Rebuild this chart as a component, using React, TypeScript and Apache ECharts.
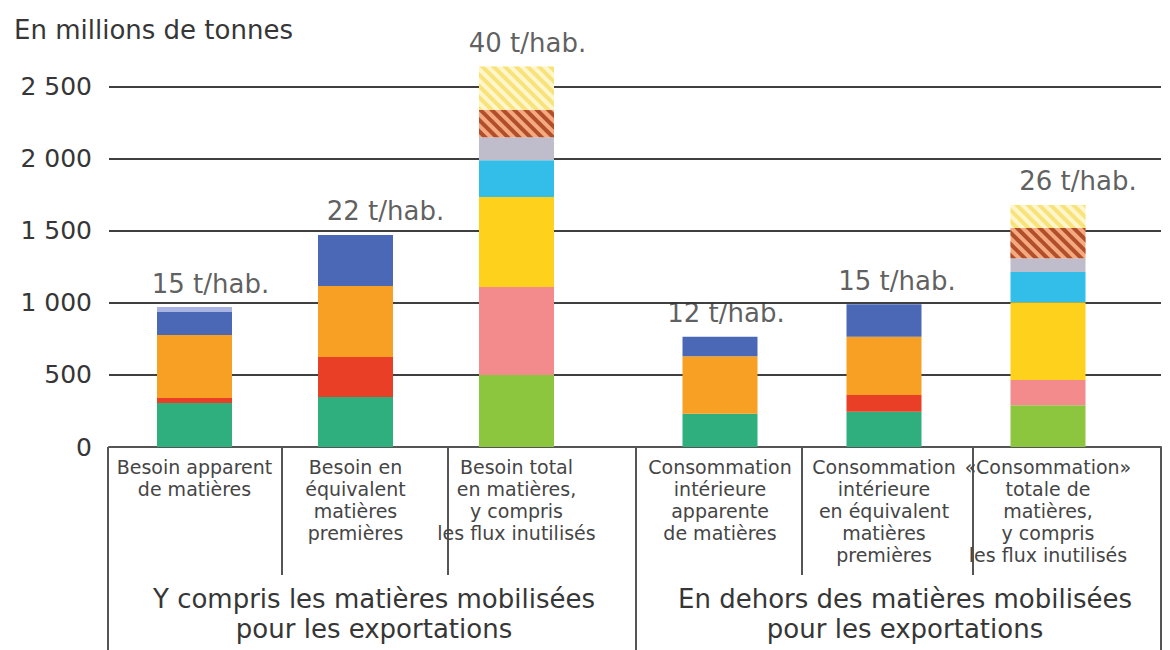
import { useEffect, useRef } from "react";
import * as echarts from "echarts";

// ---------- data ----------
const categories = [
  "Besoin apparent\nde matières",
  "Besoin en\néquivalent\nmatières\npremières",
  "Besoin total\nen matières,\ny compris\nles flux inutilisés",
  "Consommation\nintérieure\napparente\nde matières",
  "Consommation\nintérieure\nen équivalent\nmatières\npremières",
  "«Consommation»\ntotale de\nmatières,\ny compris\nles flux inutilisés",
];
const groupLabels = [
  ["Y compris les matières mobilisées", "pour les exportations"],
  ["En dehors des matières mobilisées", "pour les exportations"],
];
const perHab = ["15 t/hab.", "22 t/hab.", "40 t/hab.", "12 t/hab.", "15 t/hab.", "26 t/hab."];
const yTicks = [0, 500, 1000, 1500, 2000, 2500];
const unitTitle = "En millions de tonnes";

// stacked segments, bottom to top (millions de tonnes)
const biomasse = [305, 347, 0, 230, 245, 0];
const mineraisMetal = [35, 278, 0, 0, 115, 0];
const mineraux = [437, 492, 0, 400, 405, 0];
const fossiles = [160, 354, 0, 135, 225, 0];
const autres = [34, 0, 0, 0, 0, 0];
const biomasseTotale = [0, 0, 500, 0, 0, 290];
const mineraisTotaux = [0, 0, 610, 0, 0, 175];
const minerauxTotaux = [0, 0, 625, 0, 0, 540];
const fossilesTotaux = [0, 0, 255, 0, 0, 210];
const autresTotaux = [0, 0, 160, 0, 0, 95];
const fluxInutilisesExtraction = [0, 0, 190, 0, 0, 210];
const fluxInutilisesAutres = [0, 0, 300, 0, 0, 160];

// ---------- styles ----------
const seriesDefs = [
  { name: "Biomasse", values: biomasse, color: "#2fae7e" },
  { name: "Minerais métalliques", values: mineraisMetal, color: "#ea3f27" },
  { name: "Minéraux non métalliques", values: mineraux, color: "#f7a023" },
  { name: "Combustibles fossiles", values: fossiles, color: "#4a68b6" },
  { name: "Autres produits", values: autres, color: "#aab4e4" },
  { name: "Biomasse (total)", values: biomasseTotale, color: "#8cc63f" },
  { name: "Minerais métalliques (total)", values: mineraisTotaux, color: "#f38b8c" },
  { name: "Minéraux non métalliques (total)", values: minerauxTotaux, color: "#fdd11c" },
  { name: "Combustibles fossiles (total)", values: fossilesTotaux, color: "#33bde9" },
  { name: "Autres produits (total)", values: autresTotaux, color: "#bfbccb" },
  {
    name: "Flux inutilisés d'extraction",
    values: fluxInutilisesExtraction,
    color: "#f4a981",
    decal: "#b04f2a",
  },
  {
    name: "Autres flux inutilisés",
    values: fluxInutilisesAutres,
    color: "#fff6cc",
    decal: "#f8e27a",
  },
];
const labelDx = [16, 30, 11, 6, 13, 30];
const TEXT = "#363636";
const FONT = "DejaVu Sans";
const GRID_TOP = 86.7;
const GRID_H = 360.3;
const AXIS_Y = GRID_TOP + GRID_H;
const separators = [
  { x: 108, y2: 650 },
  { x: 282, y2: 575 },
  { x: 448, y2: 575 },
  { x: 636, y2: 650 },
  { x: 802, y2: 575 },
  { x: 973, y2: 575 },
  { x: 1161, y2: 650 },
];
const groupCenters = [374, 905];
const groupLineY = [599, 629];

const fmt = (v: number) => String(v).replace(/\B(?=(\d{3})+(?!\d))/g, " ");

export default function App() {
  const ref = useRef<HTMLDivElement>(null);
  useEffect(() => {
    if (!ref.current) return;
    const chart = echarts.init(ref.current, undefined, { renderer: "svg" });
    const totals = categories.map((_, i) => seriesDefs.reduce((s, d) => s + d.values[i], 0));

    const series: any[] = [];
    [0, 1].forEach((g) => {
      const from = g * 3;
      seriesDefs.forEach((d) => {
        series.push({
          type: "bar",
          name: d.name,
          xAxisIndex: g + 1,
          yAxisIndex: g + 1,
          stack: "s" + g,
          barWidth: 75,
          clip: false,
          silent: true,
          data: d.values.slice(from, from + 3),
          itemStyle: {
            color: d.color,
            decal: d.decal
              ? {
                  symbol: "rect",
                  symbolSize: 1,
                  dashArrayX: [1, 0],
                  dashArrayY: [4, 4],
                  rotation: Math.PI / 4,
                  color: d.decal,
                }
              : undefined,
          },
        });
      });
      series.push({
        type: "scatter",
        xAxisIndex: g + 1,
        yAxisIndex: g + 1,
        symbolSize: 1,
        clip: false,
        silent: true,
        itemStyle: { color: "rgba(0,0,0,0)" },
        data: [0, 1, 2].map((k) => ({
          value: [k, totals[from + k]],
          label: { offset: [labelDx[from + k], 0] },
        })),
        label: {
          show: true,
          position: "top",
          distance: 10,
          fontSize: 26,
          fontFamily: FONT,
          color: TEXT,
          formatter: (p: any) => perHab[from + p.dataIndex],
        },
      });
    });

    const catAxis = (g: number) => ({
      gridIndex: g + 1,
      type: "category",
      data: categories.slice(g * 3, g * 3 + 3),
      axisLine: { show: false },
      axisTick: { show: false },
      axisLabel: {
        interval: 0,
        margin: 9,
        fontSize: 19,
        lineHeight: 22,
        fontFamily: FONT,
        color: "#454545",
        align: "center",
      },
    });

    const groupTexts: any[] = [];
    groupLabels.forEach((lines, i) =>
      lines.forEach((line, j) =>
        groupTexts.push({
          type: "text",
          silent: true,
          x: groupCenters[i],
          y: groupLineY[j],
          style: {
            text: line,
            fontSize: 26,
            fontFamily: FONT,
            fill: TEXT,
            align: "center",
            verticalAlign: "middle",
          },
        })
      )
    );

    chart.setOption({
      animation: false,
      title: {
        text: unitTitle,
        left: 9,
        top: 12,
        textStyle: { fontSize: 26, fontWeight: "normal", fontFamily: FONT, color: TEXT },
      },
      grid: [
        { left: 109, top: GRID_TOP, width: 1052, height: GRID_H },
        { left: 114, top: GRID_TOP, width: 483, height: GRID_H },
        { left: 638, top: GRID_TOP, width: 492, height: GRID_H },
      ],
      xAxis: [
        {
          gridIndex: 0,
          type: "value",
          min: 0,
          max: 1,
          axisLine: { show: true, lineStyle: { color: "#555", width: 2 } },
          axisTick: { show: false },
          axisLabel: { show: false },
          splitLine: { show: false },
        },
        catAxis(0),
        catAxis(1),
      ],
      yAxis: [
        {
          gridIndex: 0,
          type: "value",
          min: yTicks[0],
          max: yTicks[yTicks.length - 1],
          interval: yTicks[1] - yTicks[0],
          axisLine: { show: false },
          axisTick: { show: false },
          axisLabel: {
            margin: 17,
            fontSize: 25,
            fontFamily: FONT,
            color: TEXT,
            formatter: (v: number) => fmt(v),
          },
          splitLine: { lineStyle: { color: "#3f3f3f", width: 2 } },
        },
        { gridIndex: 1, type: "value", min: 0, max: 2500, show: false, splitLine: { show: false } },
        { gridIndex: 2, type: "value", min: 0, max: 2500, show: false, splitLine: { show: false } },
      ],
      graphic: [
        ...separators.map((s) => ({
          type: "line",
          silent: true,
          shape: { x1: s.x, y1: AXIS_Y, x2: s.x, y2: s.y2 },
          style: { stroke: "#555", lineWidth: 2 },
        })),
        ...groupTexts,
      ],
      series,
    });
    return () => chart.dispose();
  }, []);
  return (
    <div
      ref={ref}
      style={{ position: "fixed", left: 0, top: 0, width: 1170, height: 650, background: "#fff" }}
    />
  );
}
